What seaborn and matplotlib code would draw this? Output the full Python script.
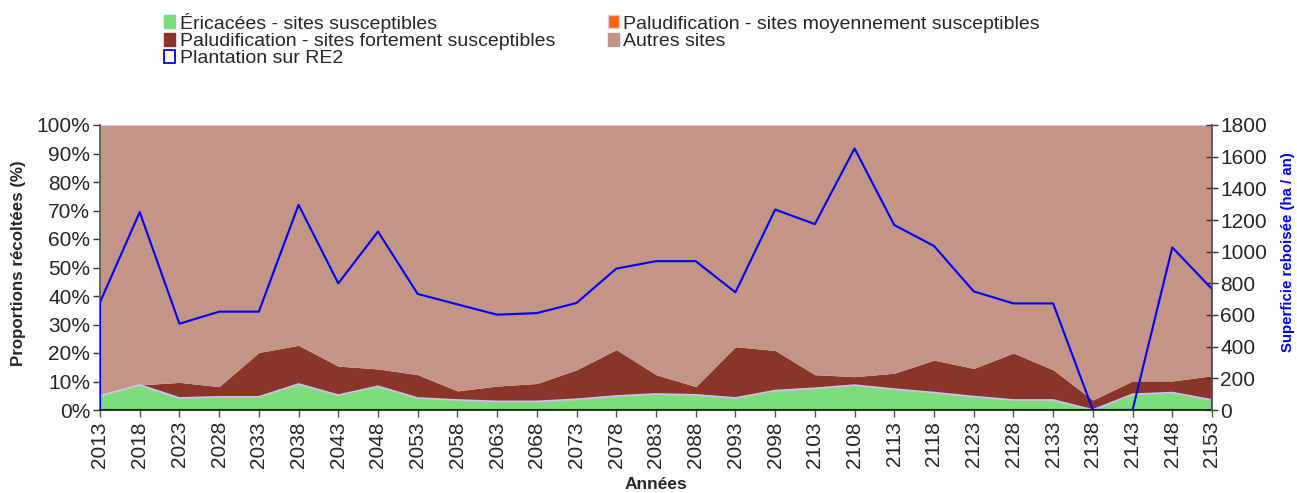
import numpy as np
import matplotlib
matplotlib.use("Agg")
import matplotlib.pyplot as plt
import seaborn as sns
from matplotlib.patches import Patch
from matplotlib.ticker import PercentFormatter

# years on the x axis
annees = list(range(2013, 2154, 5))

# proportions (%)
ericacees = [5.0, 8.8, 4.2, 4.6, 4.6, 9.1, 5.2, 8.3, 4.2, 3.5, 3.0, 3.0, 3.75, 4.9, 5.6,
             5.3, 4.2, 6.8, 7.6, 8.7, 7.3, 6.1, 4.7, 3.5, 3.5, 0.0, 5.5, 6.1, 3.5]
palu_moyen = [0.0] * 29
palu_fort = [0.0, 0.0, 5.5, 3.6, 15.6, 13.6, 10.2, 6.1, 8.2, 3.2, 5.4, 6.3, 10.35, 16.3, 6.8,
             2.9, 18.0, 14.1, 4.8, 3.0, 5.6, 11.4, 9.9, 16.5, 10.6, 3.5, 4.7, 4.1, 8.5]
autres = [100 - a - b - c for a, b, c in zip(ericacees, palu_moyen, palu_fort)]

# planted area (ha / an), right axis
plantation = [680, 1250, 545, 621, 621, 1296, 800, 1127, 733, 667, 602, 612, 676, 893, 940,
              940, 743, 1266, 1174, 1652, 1168, 1036, 749, 673, 673, 0, 0, 1027, 764]

sns.set_theme(style="white")
plt.rcParams['font.family'] = ['Liberation Sans', 'DejaVu Sans']

c_eric = "#7ddd7b"
c_moy = "#ff6600"
c_fort = "#8a3529"
c_autres = "#c49486"
c_blue = "#0000ff"

fig = plt.figure(figsize=(12.97, 4.93), dpi=100)
ax = fig.add_axes([100/1297, 1 - 410/493, 1112/1297, 285/493])

ax.stackplot(annees, ericacees, palu_moyen, palu_fort, autres,
             colors=[c_eric, c_moy, c_fort, c_autres], linewidth=0)
# light border on top of the green area
sns.lineplot(x=annees, y=ericacees, ax=ax, color="#cdc3ee", linewidth=1.3)

ax.set_xlim(2013, 2153)
ax.set_ylim(0, 100)
ax.set_yticks(range(0, 101, 10))
ax.yaxis.set_major_formatter(PercentFormatter(decimals=0))
ax.set_xticks(annees)
ax.set_xticklabels([str(a) for a in annees], rotation=90, fontsize=15)
ax.tick_params(axis="y", labelsize=15, direction="out", length=5, width=1, color="#333333", left=True, pad=2)
ax.tick_params(axis="x", direction="out", length=5, width=1, color="#555555", bottom=True, pad=3)
ax.set_ylabel("Proportions récoltées (%)", fontsize=12.2, fontweight="bold")
ax.yaxis.set_label_coords(-0.0665, 0.514)
ax.set_xlabel("Années", fontsize=12.5, fontweight="bold", labelpad=6.5)

ax2 = ax.twinx()
ax2.fill_between(annees, plantation, 0, facecolor="none", edgecolor=c_blue, linewidth=1.5)
ax2.set_ylim(0, 1800)
ax2.set_yticks(range(0, 1801, 200))
ax2.tick_params(axis="y", labelsize=15, direction="inout", length=8, width=1, color="#333333", right=True, pad=2)
ax2.set_ylabel("Superficie reboisée (ha / an)", fontsize=10.8, fontweight="bold", color=c_blue)
ax2.yaxis.set_label_coords(1.062, 0.553)

for a in (ax, ax2):
    for s in a.spines.values():
        s.set_visible(False)
ax.spines["left"].set_visible(True)
ax.spines["left"].set_color("#555555")
ax.spines["bottom"].set_visible(True)
ax.spines["bottom"].set_color("#222222")
ax2.spines["right"].set_visible(True)
ax2.spines["right"].set_color("#555555")

handles = [
    Patch(facecolor=c_eric, edgecolor=c_eric, label="Éricacées - sites susceptibles"),
    Patch(facecolor=c_fort, edgecolor=c_fort, label="Paludification - sites fortement susceptibles"),
    Patch(facecolor="none", edgecolor=c_blue, linewidth=1.3, label="Plantation sur RE2"),
    Patch(facecolor=c_moy, edgecolor="#ccccff", label="Paludification - sites moyennement susceptibles"),
    Patch(facecolor=c_autres, edgecolor=c_autres, label="Autres sites"),
]
fig.legend(handles=handles, loc="upper left", bbox_to_anchor=(145/1297, 1.014), ncol=2,
           frameon=False, fontsize=14.0, handlelength=0.55, handleheight=0.65,
           handletextpad=0.25, labelspacing=0.0, columnspacing=2.7, borderpad=0.5)

fig.savefig("out.png", dpi=100)
